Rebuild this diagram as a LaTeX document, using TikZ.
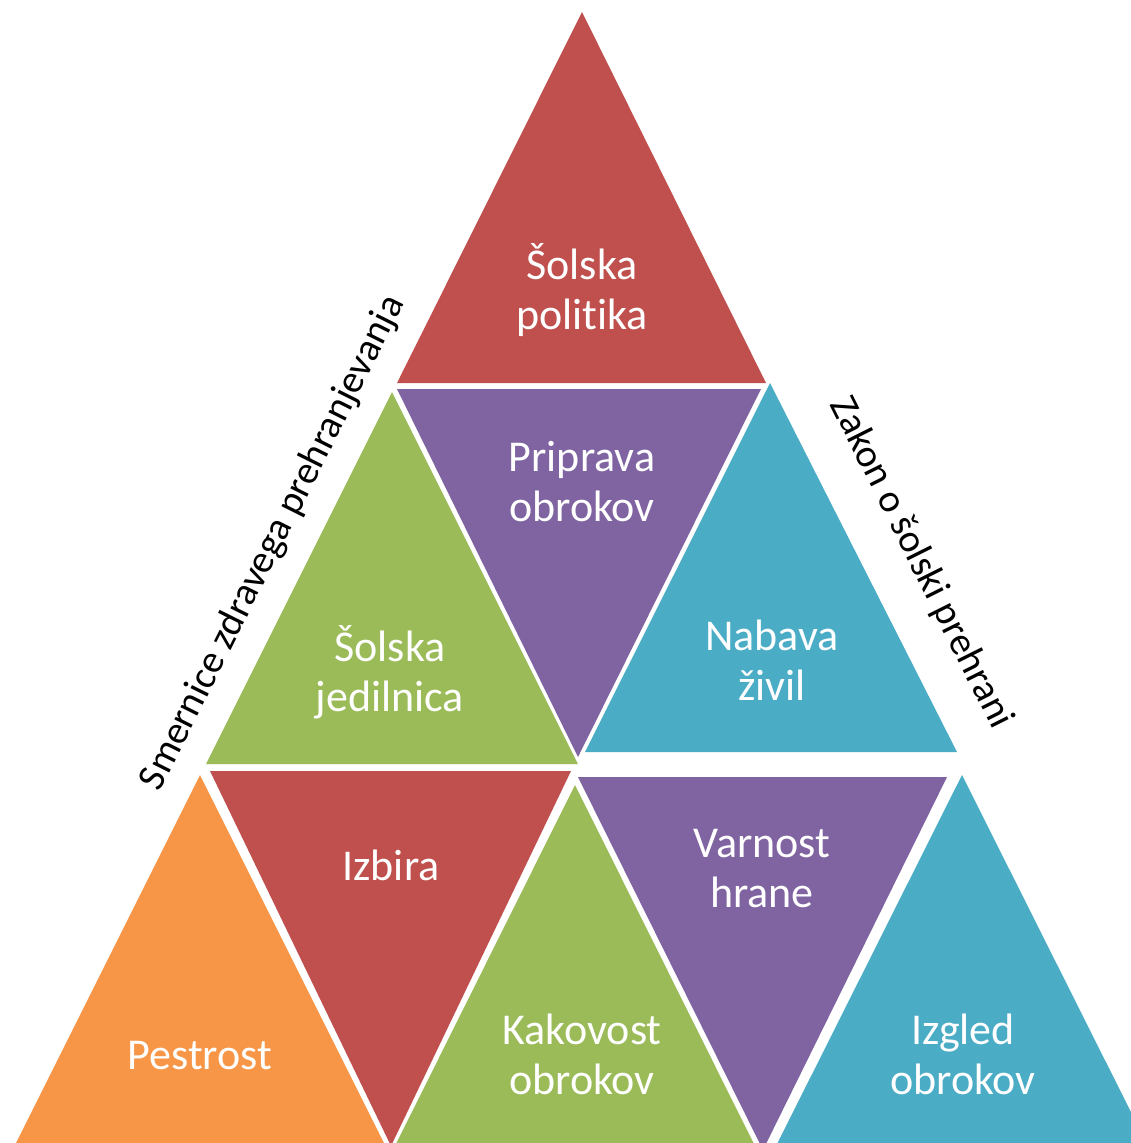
\documentclass[tikz,border=0pt]{standalone}
\usepackage{fontspec}
\setmainfont{Carlito}[Ligatures={NoCommon}]
\definecolor{cred}{HTML}{C0504D}
\definecolor{cpurple}{HTML}{8064A2}
\definecolor{cgreen}{HTML}{9BBB59}
\definecolor{ccyan}{HTML}{4BACC6}
\definecolor{corange}{HTML}{F79646}
\begin{document}
\begin{tikzpicture}[x=0.75pt,y=-0.75pt,
  lbl/.style={text=white,align=center,font=\fontsize{33}{37.5}\selectfont},
  side/.style={text=black,font=\fontsize{29.5}{33}\selectfont}]
\useasboundingbox (0,0) rectangle (1131,1143);
\clip (0,0) rectangle (1131,1143);
% row 1
\fill[cred] (582,12) -- (397,383) -- (766,383) -- cycle;
% row 2
\fill[cpurple] (397,389) -- (761,389) -- (578,757) -- cycle;
\fill[cgreen] (392,392) -- (206,764) -- (578,764) -- cycle;
\fill[ccyan] (770,383) -- (585,752) -- (957,752) -- cycle;
% row 3
\fill[corange] (200,775) -- (6,1163) -- (394,1163) -- cycle;
\fill[cred] (210,771) -- (571,771) -- (391,1146) -- cycle;
\fill[cgreen] (575,785) -- (388,1160) -- (762,1160) -- cycle;
\fill[cpurple] (578,777) -- (947,777) -- (763,1150) -- cycle;
\fill[ccyan] (962,775) -- (769,1160) -- (1155,1160) -- cycle;
% labels
\node[lbl] (t1) at (582,290) {Šolska\\politika};
\node[lbl] (t2) at (582,482) {Priprava\\obrokov};
\node[lbl] (t3) at (390,672) {Šolska\\jedilnica};
\node[lbl] (t4) at (772,660) {Nabava\\živil};
\node[lbl] (t5) at (200,1056) {Pestrost};
\node[lbl] (t6) at (391,865) {Izbira};
\node[lbl] (t7) at (582,1054) {Kakovost\\obrokov};
\node[lbl] (t8) at (762,869) {Varnost\\hrane};
\node[lbl] (t9) at (963,1054) {Izgled\\obrokov};
\node[side,rotate=63.43] (s1) at (273,543) {Smernice zdravega prehranjevanja};
\node[side,rotate=-63.43] (s2) at (921,563) {Zakon o šolski prehrani};
\end{tikzpicture}
\end{document}
